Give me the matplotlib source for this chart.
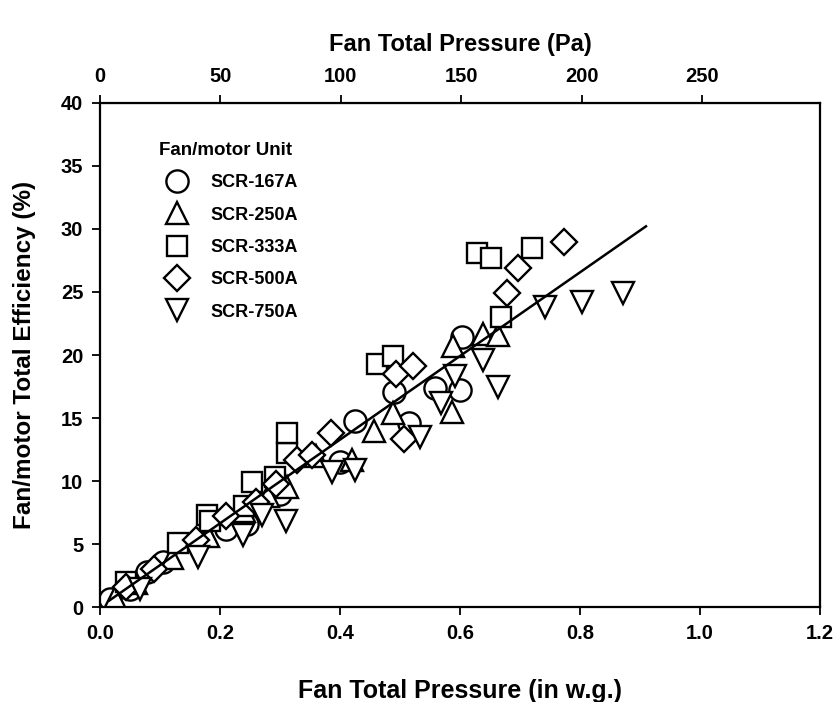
import matplotlib
matplotlib.use("Agg")
import matplotlib.pyplot as plt
import numpy as np

plt.rcParams['font.family'] = ['Liberation Sans', 'DejaVu Sans']
plt.rcParams['font.weight'] = 'bold'

# fan total pressure (in w.g.) vs fan/motor total efficiency (%)
scr167_x = [0.017, 0.05, 0.078, 0.105, 0.21, 0.245, 0.30, 0.40, 0.425, 0.49, 0.515, 0.558, 0.60, 0.603]
scr167_y = [0.6, 1.4, 2.8, 3.6, 6.2, 6.6, 9.0, 11.5, 14.8, 17.1, 14.6, 17.4, 17.2, 21.4]

scr250_x = [0.025, 0.06, 0.12, 0.18, 0.24, 0.28, 0.311, 0.36, 0.42, 0.456, 0.489, 0.586, 0.589, 0.639, 0.664]
scr250_y = [0.7, 1.9, 3.9, 5.6, 7.6, 8.8, 9.5, 12.0, 11.7, 14.0, 15.4, 15.5, 20.7, 21.7, 21.6]

scr333_x = [0.044, 0.13, 0.178, 0.183, 0.24, 0.253, 0.292, 0.311, 0.311, 0.461, 0.489, 0.628, 0.651, 0.668, 0.72]
scr333_y = [2.0, 5.1, 7.3, 6.8, 8.0, 9.9, 10.3, 12.2, 13.8, 19.3, 19.9, 28.1, 27.7, 23.0, 28.5]

scr500_x = [0.044, 0.09, 0.16, 0.21, 0.26, 0.294, 0.328, 0.353, 0.385, 0.494, 0.506, 0.522, 0.678, 0.696, 0.773]
scr500_y = [1.6, 3.0, 5.3, 7.2, 8.3, 9.8, 11.7, 12.1, 13.8, 18.5, 13.3, 19.1, 24.9, 26.9, 29.0]

scr750_x = [0.067, 0.163, 0.238, 0.27, 0.31, 0.386, 0.425, 0.533, 0.569, 0.592, 0.639, 0.664, 0.742, 0.803, 0.871]
scr750_y = [1.4, 4.0, 5.7, 7.3, 6.8, 10.7, 10.9, 13.5, 16.2, 18.3, 19.6, 17.5, 23.8, 24.2, 24.9]

# linear fit through the data
fit_slope = 33.2
fit_x = [0.015, 0.91]

series = [
    ('SCR-167A', scr167_x, scr167_y, 'o'),
    ('SCR-250A', scr250_x, scr250_y, '^'),
    ('SCR-333A', scr333_x, scr333_y, 's'),
    ('SCR-500A', scr500_x, scr500_y, 'D'),
    ('SCR-750A', scr750_x, scr750_y, 'v'),
]
sizes = {'o': 16, '^': 16, 's': 15, 'D': 13, 'v': 16}

fig = plt.figure(figsize=(8.38, 7.02), dpi=100)
ax = fig.add_axes([0.1193, 0.1353, 0.8592, 0.718])

for name, xs, ys, m in series:
    ax.plot(xs, ys, linestyle='none', marker=m, markersize=sizes[m],
            markerfacecolor='white', markeredgecolor='black',
            markeredgewidth=1.7, label=name)

fx = np.array(fit_x)
ax.plot(fx, fit_slope * fx, color='black', linewidth=1.8)

ax.set_xlim(0, 1.2)
ax.set_ylim(0, 40)
ax.set_xticks(np.arange(0, 1.21, 0.2))
ax.set_xticklabels(['%.1f' % v for v in np.arange(0, 1.21, 0.2)])
ax.set_yticks(np.arange(0, 41, 5))
ax.tick_params(direction='out', length=6, width=1.3, labelsize=14.5, right=False, pad=6)
for s in ax.spines.values():
    s.set_linewidth(1.6)

ax.set_xlabel('Fan Total Pressure (in w.g.)', fontsize=18, fontweight='bold', labelpad=26)
ax.set_ylabel('Fan/motor Total Efficiency (%)', fontsize=17.5, fontweight='bold', labelpad=18)

top = ax.secondary_xaxis('top', functions=(lambda x: x * 249.09, lambda p: p / 249.09))
top.set_xticks([0, 50, 100, 150, 200, 250])
top.tick_params(direction='out', length=6, width=1.3, labelsize=14.5, pad=6)
top.set_xlabel('Fan Total Pressure (Pa)', fontsize=17, fontweight='bold', labelpad=12)

leg = ax.legend(loc='upper left', bbox_to_anchor=(0.06, 0.955), frameon=False,
                title='Fan/motor Unit', fontsize=13, title_fontsize=13.5,
                handletextpad=0.8, labelspacing=0.85, markerscale=1.0)
leg.get_title().set_fontweight('bold')
leg._legend_box.align = 'left'

fig.savefig('out.png', dpi=100)
